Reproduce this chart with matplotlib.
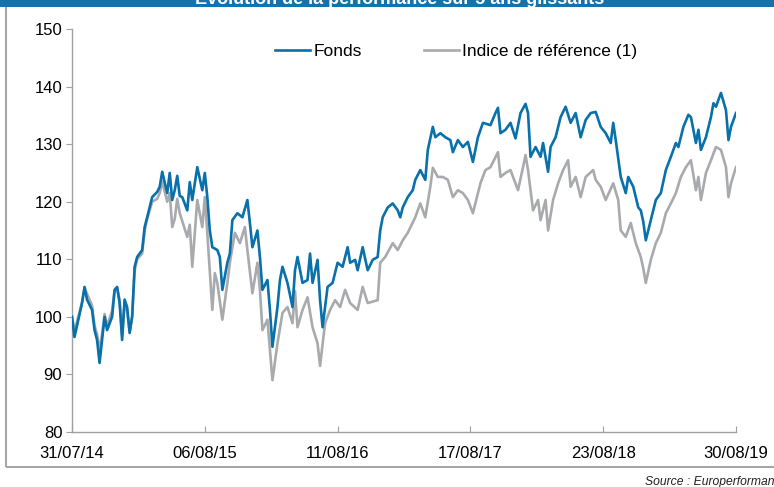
import matplotlib.pyplot as plt
from matplotlib.patches import Rectangle

plt.rcParams['font.family'] = ['Liberation Sans', 'DejaVu Sans']

# weekly positions (weeks since 31/07/14) and values
fonds_weeks = [0, 1, 4, 5, 6, 8, 9, 10, 11, 12, 13, 14, 16, 17, 18, 19, 20, 21, 22, 23,
               24, 25, 26, 28, 29, 30, 32, 34, 35, 36, 38, 39, 40, 41, 42, 43, 44, 46, 47, 48,
               50, 52, 53, 54, 55, 56, 58, 59, 60, 62, 63, 64, 66, 68, 70, 71, 72, 74, 75, 76,
               78, 79, 80, 82, 83, 84, 86, 88, 89, 90, 92, 94, 95, 96, 98, 99, 100, 102, 104, 106,
               108, 110, 111, 113, 114, 116, 118, 120, 122, 123, 124, 126, 128, 130, 131, 132, 134, 136, 137, 139,
               141, 142, 144, 145, 147, 149, 151, 152, 154, 156, 158, 160, 162, 164, 167, 169, 170, 171, 173, 175,
               177, 179, 181, 182, 183, 185, 187, 188, 190, 191, 193, 195, 197, 199, 201, 203, 205, 207, 209, 211,
               213, 215, 216, 217, 219, 221, 222, 224, 226, 227, 228, 229, 231, 233, 235, 237, 239, 241, 242, 244,
               246, 247, 249, 250, 251, 253, 255, 256, 257, 259, 261, 262, 263, 265]
fonds = [100, 96.5, 102.4, 105.2, 103, 101.2, 97.7, 96, 92, 96, 100, 97.7, 100, 104.7, 105.2, 102.4, 96, 103, 101.7, 97.2,
         100, 108.7, 110.4, 111.6, 115.6, 117.3, 120.8, 121.7, 122.6, 125.2, 121.5, 125, 120.3, 122, 124.5, 121, 120.8, 118.5, 123.4, 120.3,
         126, 122, 125, 120.8, 115, 112.1, 111.6, 110.4, 104.7, 109.4, 111, 116.8, 118, 117.3, 120.3, 116.3, 112.1, 115, 110.4, 104.7,
         106.4, 101.2, 94.8, 101.7, 106.4, 108.7, 105.9, 101.7, 108.1, 110.4, 105.9, 106.4, 111, 105.9, 109.9, 102.9, 98.2, 105.2, 105.9, 109.4,
         108.7, 112.1, 109.4, 109.9, 108.1, 112.1, 108.1, 109.9, 110.4, 115, 117.3, 119, 119.7, 118.5, 117.3, 119, 120.8, 122, 123.8, 125.5,
         123.8, 129, 133, 131.2, 131.9, 131.2, 130.7, 128.6, 130.7, 129.5, 130.4, 126.9, 131.2, 133.7, 133.3, 135.4, 136.3, 131.9, 132.5, 133.7,
         131, 135.4, 137, 135.4, 127.8, 129.5, 127.8, 130.2, 125.2, 129.5, 131.2, 134.7, 136.5, 133.7, 135.4, 131.2, 134.2, 135.4, 135.6, 133,
         131.9, 130.2, 133.7, 130.7, 124.3, 121.5, 124.3, 122.6, 119, 118.5, 116.5, 113.3, 116.8, 120.3, 121.5, 125.5, 127.8, 130.2, 129.5, 133,
         135.1, 134.7, 130.2, 132.5, 129, 131.2, 134.7, 137.1, 136.5, 138.9, 135.9, 130.7, 133, 135.4]

indice_weeks = [0, 1, 4, 5, 6, 8, 9, 10, 11, 12, 13, 14, 16, 17, 18, 19, 20, 21, 22, 23,
                24, 25, 26, 28, 29, 30, 32, 34, 35, 36, 38, 39, 40, 41, 42, 43, 46, 47, 48, 50,
                52, 53, 54, 56, 57, 58, 60, 62, 63, 65, 67, 69, 70, 72, 74, 75, 76, 78, 80, 82,
                84, 86, 88, 89, 90, 92, 94, 96, 98, 99, 101, 103, 105, 107, 109, 111, 114, 116, 118, 122,
                123, 125, 128, 130, 132, 134, 137, 139, 141, 143, 144, 146, 148, 150, 152, 154, 156, 158, 160, 163,
                165, 167, 170, 171, 173, 175, 178, 180, 181, 182, 184, 186, 187, 189, 190, 192, 194, 196, 198, 199,
                201, 203, 205, 208, 209, 211, 213, 216, 218, 219, 221, 223, 225, 227, 228, 229, 231, 233, 235, 237,
                239, 241, 243, 245, 247, 249, 250, 251, 253, 255, 257, 259, 261, 262, 263, 265]
indice = [100, 97.5, 102.5, 105, 104, 102, 98.5, 97, 94.2, 97, 100.5, 98.5, 101, 104.5, 105, 103, 96.7, 102.5, 101, 97.5,
          100, 108, 110, 111, 115, 117, 120, 120.5, 121.5, 123.5, 120, 121.5, 115.6, 117, 120.5, 118, 113.9, 116, 108.7, 120.3,
          115.6, 120.8, 114.6, 101.2, 107.6, 105.9, 99.5, 105.9, 109.4, 114.6, 112.8, 115.6, 111.6, 104.1, 109.4, 104.7, 97.7, 99.5, 89, 95.4,
          100.7, 101.7, 98.9, 104.5, 98.2, 101.2, 103.4, 98.2, 95.4, 91.5, 98.9, 101.2, 102.9, 101.7, 104.7, 102.4, 101.2, 105.2, 102.4, 102.9,
          109.4, 110.4, 112.8, 111.6, 113.3, 114.6, 117.3, 119.7, 117.3, 122.6, 125.9, 124.3, 124.3, 123.8, 120.8, 122, 121.5, 120.3, 118, 123.2,
          125.5, 126, 128.6, 124.3, 125, 125.5, 122, 126, 128.1, 125.5, 118.5, 120.3, 116.8, 120.3, 115, 120.3, 123.2, 125.5, 127.2, 122.6,
          124.3, 120.8, 124.3, 125.5, 123.8, 122.6, 120.3, 123.2, 120.3, 115, 113.9, 116.3, 112.8, 110.4, 108.4, 105.9, 109.9, 112.8, 114.6, 118,
          119.7, 121.5, 124.3, 126, 127.2, 122, 124.3, 120.3, 125, 127.2, 129.5, 129, 126, 120.8, 123.2, 126]

tick_weeks = [0, 53, 106, 159, 212, 265]
tick_labels = ['31/07/14', '06/08/15', '11/08/16', '17/08/17', '23/08/18', '30/08/19']

BLUE = '#0870AA'
GREY = '#A8AAAD'
AXIS = '#A0A0A0'

fig = plt.figure(figsize=(7.74, 4.87), dpi=100)

# outer frame and title strip (the title is cut by the top edge, as in the source)
fig.patches.append(Rectangle((6 / 774, 1 - 467 / 487), 1.0, 467 / 487, transform=fig.transFigure,
                             fill=False, edgecolor='#A6A6A6', linewidth=1.5))
fig.patches.append(Rectangle((0, 1 - 7 / 487), 1, 7 / 487, transform=fig.transFigure,
                             facecolor='#1473AD', edgecolor='none'))
fig.text(400 / 774, 1 - 4 / 487, 'Evolution de la performance sur 5 ans glissants', color='white',
         fontsize=13, fontweight='bold', ha='center', va='baseline')

ax = fig.add_axes([72 / 774, 1 - 432 / 487, (736 - 72) / 774, (432 - 29) / 487])
ax.plot(fonds_weeks, fonds, color=BLUE, linewidth=1.9, label='Fonds', zorder=3)
ax.plot(indice_weeks, indice, color=GREY, linewidth=1.9, label='Indice de référence (1)', zorder=2)

ax.set_xlim(0, 265)
ax.set_ylim(80, 150)
ax.set_yticks(range(80, 151, 10))
ax.set_xticks(tick_weeks)
ax.set_xticklabels(tick_labels)

for s in ['top', 'right']:
    ax.spines[s].set_visible(False)
for s in ['left', 'bottom']:
    ax.spines[s].set_color(AXIS)
    ax.spines[s].set_linewidth(1.0)
ax.tick_params(axis='y', direction='out', length=4, color=AXIS, labelsize=12, pad=3)
ax.tick_params(axis='x', direction='in', length=4, color=AXIS, labelsize=12, pad=10)

fig.legend(*ax.get_legend_handles_labels(), loc='center left',
           bbox_to_anchor=(275 / 774, 1 - 51 / 487), ncol=2, frameon=False,
           fontsize=12.5, handlelength=2.0, handletextpad=0.2, columnspacing=3.6,
           borderpad=0, borderaxespad=0)

fig.text(645 / 774, 1 - 482 / 487, 'Source : Europerformance', fontsize=8.7, style='italic',
         ha='left', va='center', color='#222222')

fig.savefig('out.png', dpi=100)
